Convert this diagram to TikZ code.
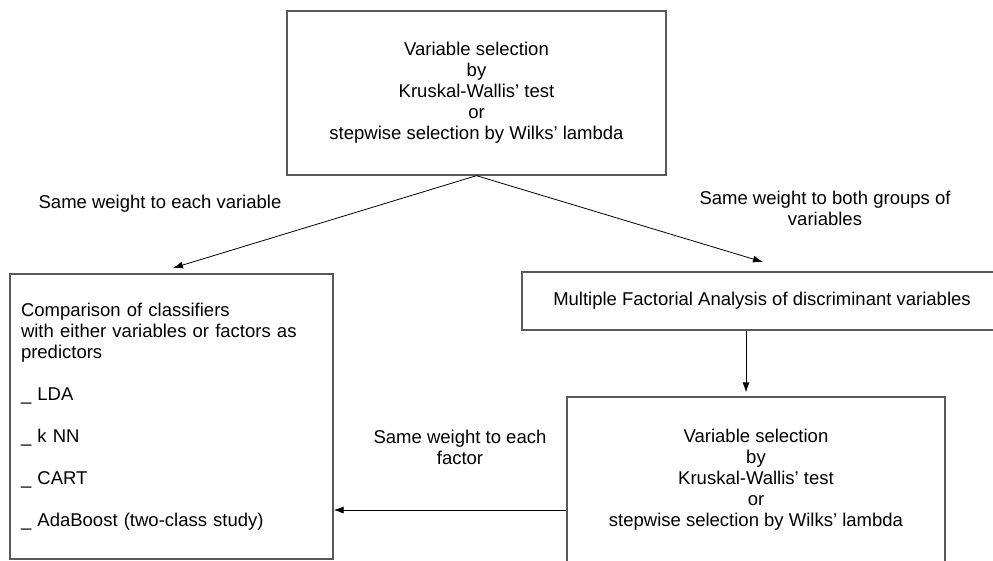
\documentclass[tikz,border=0pt]{standalone}
\usepackage{fontspec}
\setmainfont{Liberation Sans}
\usetikzlibrary{arrows.meta}

\begin{document}
\begin{tikzpicture}[x=1pt, y=-1pt,
    box/.style={draw=black!65, line width=1.3pt, inner sep=0pt, font=\fontsize{18.5}{21}\selectfont},
    lbl/.style={align=center, font=\fontsize{18.5}{21}\selectfont},
    arr/.style={-{Latex[length=10pt,width=7pt]}, line width=0.8pt}]
    \useasboundingbox (0,0) rectangle (993,560);

    % Selection at the top
    \node[box, align=center, minimum width=379pt, minimum height=164pt] (top) at (476.5,93)
        {Variable selection\\by\\Kruskal-Wallis' test\\or\\stepwise selection by Wilks' lambda};

    % Classifiers
    \node[box, align=left, text width=301pt, inner xsep=11pt, minimum height=285pt] (left) at (171.5,416.5)
        {Comparison of classifiers\\with either variables or factors as\\predictors\\[21pt]
         \_ LDA\\[21pt]\_ k NN\\[21pt]\_ CART\\[21pt]\_ AdaBoost (two-class study)};

    % MFA (runs past the right border)
    \node[box, align=center, minimum width=480pt, minimum height=58pt] (mfa) at (762,301)
        {Multiple Factorial Analysis of discriminant variables};

    % Selection on the factors
    \node[box, align=center, minimum width=378pt, minimum height=165pt] (lower) at (756,479.5)
        {Variable selection\\by\\Kruskal-Wallis' test\\or\\stepwise selection by Wilks' lambda};

    % Labels
    \node[lbl] (lblvar) at (160,204) {Same weight to each variable};
    \node[lbl] (lblgrp) at (825,208.5) {Same weight to both groups of\\variables};
    \node[lbl] (lblfac) at (460,447) {Same weight to each\\factor};

    % Arrows
    \coordinate (tipvar) at (173,268);
    \coordinate (tipgrp) at (763,262);
    \draw[arr] (top.south) -- (tipvar);
    \draw[arr] (top.south) -- (tipgrp);
    \draw[arr, shorten >=4pt] ([xshift=-16pt]mfa.south) -- ([xshift=-16pt]mfa.south |- lower.north);
    \draw[arr] ([yshift=-30.5pt]lower.west) -- ([yshift=-30.5pt]lower.west -| left.east);
\end{tikzpicture}
\end{document}
